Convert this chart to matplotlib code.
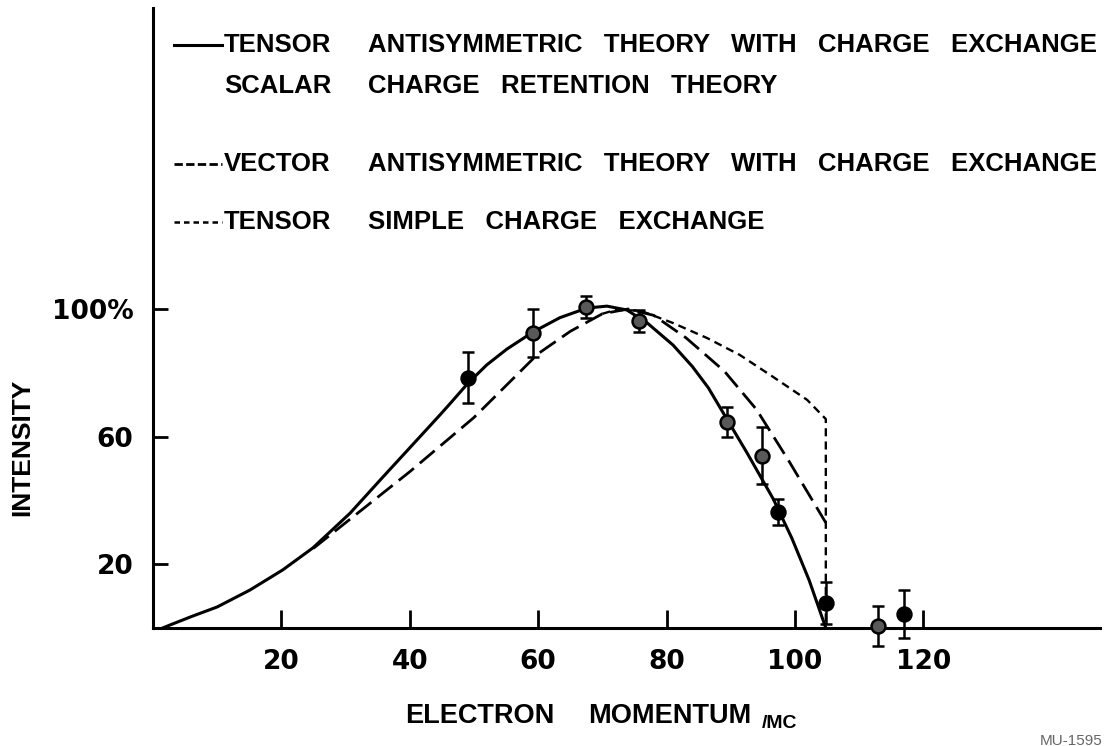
import numpy as np
import matplotlib.pyplot as plt
from matplotlib.lines import Line2D

# curves (momentum in mc, intensity in %)
tensor_as_x = [1.5, 2.6, 6, 10, 15.1, 20.2, 24.9, 30.7, 35.8, 41.1, 44.7, 46.3, 49, 52, 55.1,
               59.2, 63.4, 67.6, 70.7, 73.8, 77, 81, 84, 86.5, 88.8, 92.5, 96.6, 99.5, 102.2, 104.8]
tensor_as_y = [0, 0.9, 3.6, 6.6, 11.9, 18.2, 25.1, 36, 47.3, 58.9, 66.8, 70.4, 76.6, 82.5, 87.4,
               92.8, 97.3, 100.3, 100.9, 99.7, 95.6, 88.7, 82, 75.3, 67.5, 55, 40.5, 28.2, 15, 0]

vector_x = [25, 30, 35, 40, 45, 50, 55, 60, 65, 70, 74, 78, 83, 89, 94, 99, 104.8]
vector_y = [25, 33, 41, 49, 57.5, 66, 76, 86, 93, 98.5, 100, 98, 91, 80.5, 68.5, 52.5, 33]

tensor_simple_x = [70, 72, 75.9, 81, 86.3, 91.4, 96.6, 101.9, 104.8, 104.8]
tensor_simple_y = [98.5, 99.7, 99.5, 95.6, 90.9, 85.6, 78.7, 71.5, 65.5, 0]

# measured points
pts_x = [49, 59.2, 67.4, 75.7, 89.4, 94.8, 97.4, 104.8, 113, 117]
pts_y = [78.4, 92.5, 100.6, 96.2, 64.6, 54, 36.4, 7.8, 0.6, 4.4]
pts_err = [8, 7.5, 3.5, 3.5, 4.7, 9, 4, 6.5, 6.3, 7.5]
pts_open = [False, True, True, True, True, True, False, False, True, False]

W, H = 1120, 746
fig = plt.figure(figsize=(11.2, 7.46), dpi=100)


def fx(px):
    return px / W


def fy(py):
    return 1 - py / H


def fit(t, width_px):
    r = fig.canvas.get_renderer()
    w = t.get_window_extent(r).width
    t.set_fontsize(t.get_fontsize() * width_px / w)
    return t.get_fontsize()


ax = fig.add_axes([fx(153), fy(628), fx(1100) - fx(153), fy(8) - fy(628)])
ax.set_xlim(0, (1100 - 153) / 6.42)
ax.set_ylim(0, (628 - 8) / 3.19)

ax.plot(tensor_as_x, tensor_as_y, color='black', lw=2.2, solid_joinstyle='round')
ax.plot(vector_x, vector_y, color='black', lw=2.0, linestyle=(0, (7, 2.8)))
ax.plot(tensor_simple_x, tensor_simple_y, color='black', lw=1.7, linestyle=(0, (3.4, 2.2)))

for x, y, e, o in zip(pts_x, pts_y, pts_err, pts_open):
    ax.errorbar(x, y, yerr=e, fmt='o', color='black', ms=10, lw=1.8, capsize=4,
                capthick=1.8, mfc='0.35' if o else 'black', mec='black', mew=1.8,
                clip_on=False, zorder=5)

for s in ['top', 'right']:
    ax.spines[s].set_visible(False)
for s in ['left', 'bottom']:
    ax.spines[s].set_linewidth(2.2)

ax.set_xticks([20, 40, 60, 80, 100, 120])
ax.set_xticklabels(['20', '40', '60', '80', '100', '120'], fontweight='bold')
ax.set_yticks([20, 60, 100])
ax.set_yticklabels(['20', '60', '100%'], fontweight='bold')
ax.tick_params(axis='x', direction='in', length=13, width=2, pad=15, labelsize=19)
ax.tick_params(axis='y', direction='in', length=11, width=2, pad=14, labelsize=19)

lab = dict(family=['Liberation Sans', 'DejaVu Sans'], fontweight='bold')

fig.text(fx(22), fy(447), 'INTENSITY', rotation=90, ha='center', va='center',
         fontsize=19, **lab)

fig.text(fx(405), fy(716), 'ELECTRON', ha='left', va='center', fontsize=19.5, **lab)
fig.text(fx(588), fy(716), 'MOMENTUM', ha='left', va='center', fontsize=19.5, **lab)
fig.text(fx(762), fy(723), '/MC', ha='left', va='center', fontsize=14, **lab)
fig.text(fx(1040), fy(741), 'MU-1595', ha='left', va='center', fontsize=11,
         color='0.4', family=['Liberation Sans', 'DejaVu Sans'])

# key
rows = [
    (45, 'solid', 'TENSOR', 'ANTISYMMETRIC   THEORY   WITH   CHARGE   EXCHANGE'),
    (86, None, 'SCALAR', 'CHARGE   RETENTION   THEORY'),
    (164, 'long', 'VECTOR', 'ANTISYMMETRIC   THEORY   WITH   CHARGE   EXCHANGE'),
    (222, 'short', 'TENSOR', 'SIMPLE   CHARGE   EXCHANGE'),
]
styles = {'solid': ('-', 2.2), 'long': ((0, (3, 1.2)), 2.0), 'short': ((0, (2.2, 1.6)), 1.8)}
size = None
for y, st, kind, desc in rows:
    if st is not None:
        ls, lw = styles[st]
        fig.add_artist(Line2D([fx(174), fx(222)], [fy(y), fy(y)], color='black',
                              lw=lw, linestyle=ls))
    td = fig.text(fx(368), fy(y), desc, ha='left', va='center', fontsize=17, **lab)
    if size is None:
        size = fit(td, 730)
    td.set_fontsize(size)
    fig.text(fx(224), fy(y), kind, ha='left', va='center', fontsize=size, **lab)

fig.savefig('out.png', dpi=100)
